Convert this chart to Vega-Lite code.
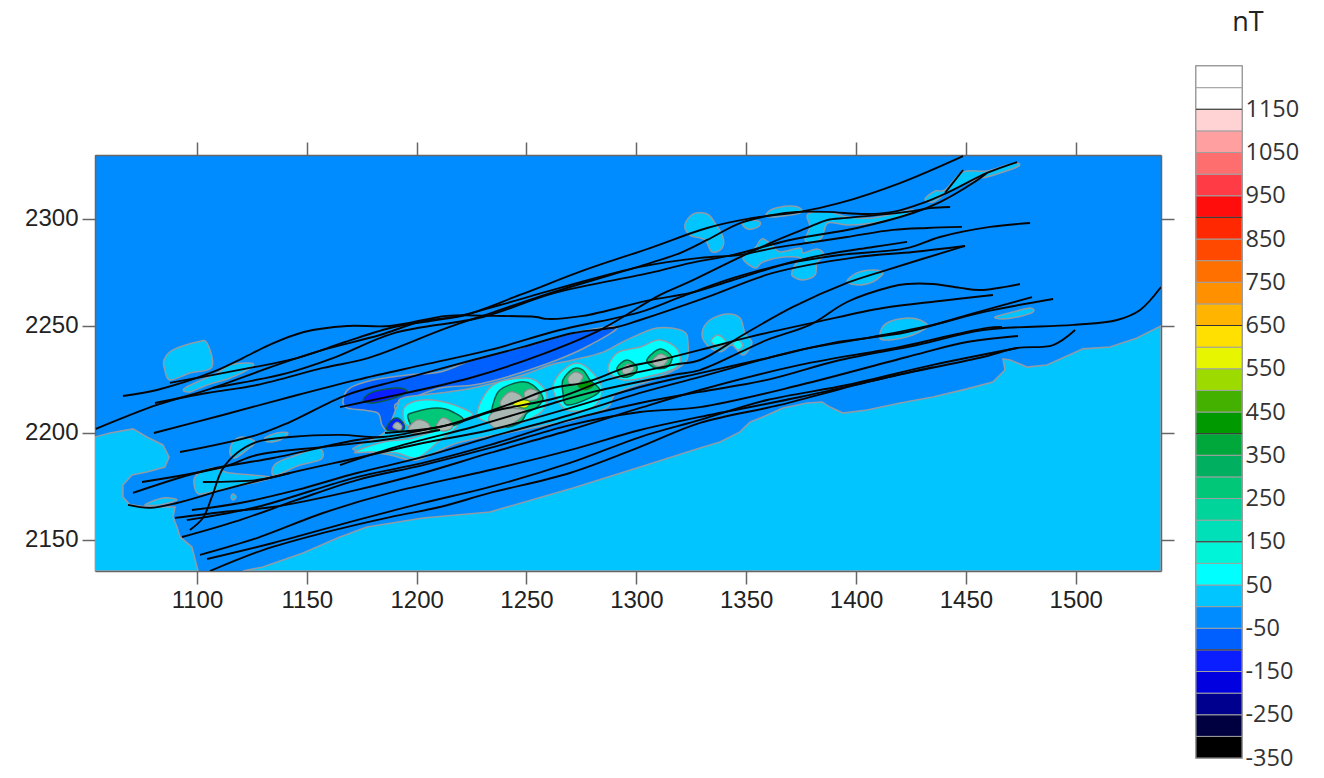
{"$schema":"https://vega.github.io/schema/vega-lite/v6.json","background":"white","padding":{"left":24,"top":7,"right":0,"bottom":0},
"config":{"view":{"stroke":null},"axis":{"grid":false,"title":null,"tickColor":"#666","tickSize":13,"tickWidth":1.5,"domainColor":"#666","domainWidth":1.5,"labelFontSize":24,"labelFont":"Liberation Sans","labelColor":"#222","labelPadding":4,"zindex":1}},
"datasets":{
"regions":[
{"id":"L","b":0,"x":1053.6,"y":2135.5},{"id":"L","b":0,"x":1053.6,"y":2198.1},{"id":"L","b":0,"x":1060.4,"y":2200},{"id":"L","b":0,"x":1070.9,"y":2201.9},{"id":"L","b":0,"x":1077.2,"y":2198.1},{"id":"L","b":0,"x":1084.5,"y":2194.4},{"id":"L","b":0,"x":1087.3,"y":2188.8},{"id":"L","b":0,"x":1085.4,"y":2184.1},{"id":"L","b":0,"x":1077.2,"y":2181.8},{"id":"L","b":0,"x":1070.4,"y":2180.4},{"id":"L","b":0,"x":1066.3,"y":2175.7},{"id":"L","b":0,"x":1066.3,"y":2170.1},{"id":"L","b":0,"x":1069.5,"y":2166.4},{"id":"L","b":0,"x":1077.2,"y":2165.4},{"id":"L","b":0,"x":1090,"y":2165.4},{"id":"L","b":0,"x":1089.1,"y":2160.7},{"id":"L","b":0,"x":1090.9,"y":2156.1},{"id":"L","b":0,"x":1092.3,"y":2151.4},{"id":"L","b":0,"x":1097.7,"y":2146.7},{"id":"L","b":0,"x":1100,"y":2137.4},{"id":"L","b":0,"x":1100.5,"y":2135.5},
{"id":"R","b":0,"x":1538.8,"y":2250},{"id":"R","b":0,"x":1527.9,"y":2244.4},{"id":"R","b":0,"x":1515.6,"y":2240.2},{"id":"R","b":0,"x":1503.3,"y":2239.3},{"id":"R","b":0,"x":1496,"y":2236},{"id":"R","b":0,"x":1486.9,"y":2231.8},{"id":"R","b":0,"x":1477.8,"y":2230.8},{"id":"R","b":0,"x":1470.1,"y":2234.1},{"id":"R","b":0,"x":1466.9,"y":2234.6},{"id":"R","b":0,"x":1467.8,"y":2229.4},{"id":"R","b":0,"x":1462.3,"y":2223.8},{"id":"R","b":0,"x":1450.5,"y":2220.6},{"id":"R","b":0,"x":1435,"y":2216.8},{"id":"R","b":0,"x":1420,"y":2214},{"id":"R","b":0,"x":1405,"y":2210.7},{"id":"R","b":0,"x":1394,"y":2209.3},{"id":"R","b":0,"x":1388.1,"y":2212.1},{"id":"R","b":0,"x":1384.5,"y":2214.5},{"id":"R","b":0,"x":1377.7,"y":2214},{"id":"R","b":0,"x":1366.8,"y":2211.7},{"id":"R","b":0,"x":1357.6,"y":2207.5},{"id":"R","b":0,"x":1351.7,"y":2205.1},{"id":"R","b":0,"x":1347.2,"y":2200.5},{"id":"R","b":0,"x":1338.1,"y":2195.8},{"id":"R","b":0,"x":1329,"y":2193},{"id":"R","b":0,"x":1301.7,"y":2184.1},{"id":"R","b":0,"x":1271.2,"y":2174.3},{"id":"R","b":0,"x":1233.4,"y":2163.1},{"id":"R","b":0,"x":1202.9,"y":2160.3},{"id":"R","b":0,"x":1177.4,"y":2156.1},{"id":"R","b":0,"x":1165.1,"y":2151.4},{"id":"R","b":0,"x":1148.3,"y":2143.9},{"id":"R","b":0,"x":1130,"y":2137.4},{"id":"R","b":0,"x":1120.9,"y":2135.5},{"id":"R","b":0,"x":1538.8,"y":2135.5}
],
"blobs":[
{"id":"b1","b":0,"x":1322.1,"y":2297.2},{"id":"b1","b":0,"x":1325.8,"y":2302.3},{"id":"b1","b":0,"x":1332.2,"y":2302.3},{"id":"b1","b":0,"x":1335.8,"y":2298.1},{"id":"b1","b":0,"x":1339.4,"y":2291.6},{"id":"b1","b":0,"x":1339,"y":2286.4},{"id":"b1","b":0,"x":1334.4,"y":2284.6},{"id":"b1","b":0,"x":1331.2,"y":2290.2},{"id":"b1","b":0,"x":1324.4,"y":2292.5},
{"id":"b2","b":0,"x":1348.1,"y":2298.1},{"id":"b2","b":0,"x":1351.7,"y":2299.5},{"id":"b2","b":0,"x":1356.3,"y":2298.6},{"id":"b2","b":0,"x":1355.4,"y":2296.3},{"id":"b2","b":0,"x":1350.8,"y":2295.3},
{"id":"b3","b":0,"x":1359,"y":2301.9},{"id":"b3","b":0,"x":1362.2,"y":2304.7},{"id":"b3","b":0,"x":1369.9,"y":2306.1},{"id":"b3","b":0,"x":1374.5,"y":2305.1},{"id":"b3","b":0,"x":1374.5,"y":2302.8},{"id":"b3","b":0,"x":1362.2,"y":2300.9},
{"id":"b4","b":0,"x":1378.1,"y":2302.3},{"id":"b4","b":0,"x":1388.1,"y":2303.3},{"id":"b4","b":0,"x":1395.9,"y":2300.9},{"id":"b4","b":0,"x":1407.7,"y":2300.5},{"id":"b4","b":0,"x":1425.5,"y":2304.2},{"id":"b4","b":0,"x":1421.4,"y":2301.4},{"id":"b4","b":0,"x":1407.7,"y":2298.1},{"id":"b4","b":0,"x":1395.9,"y":2297.2},{"id":"b4","b":0,"x":1387.2,"y":2298.1},{"id":"b4","b":0,"x":1384.5,"y":2291.6},{"id":"b4","b":0,"x":1380.4,"y":2288.8},{"id":"b4","b":0,"x":1376.8,"y":2290.2},{"id":"b4","b":0,"x":1379,"y":2296.3},
{"id":"b5","b":0,"x":1354,"y":2286.4},{"id":"b5","b":0,"x":1357.2,"y":2290.7},{"id":"b5","b":0,"x":1361.7,"y":2287.9},{"id":"b5","b":0,"x":1365.4,"y":2284.6},{"id":"b5","b":0,"x":1374.5,"y":2286.4},{"id":"b5","b":0,"x":1375.9,"y":2284.1},{"id":"b5","b":0,"x":1382.2,"y":2286},{"id":"b5","b":0,"x":1385.4,"y":2283.2},{"id":"b5","b":0,"x":1382.2,"y":2279.4},{"id":"b5","b":0,"x":1381.3,"y":2273.8},{"id":"b5","b":0,"x":1375.9,"y":2271.5},{"id":"b5","b":0,"x":1370.8,"y":2273.8},{"id":"b5","b":0,"x":1372.2,"y":2278.5},{"id":"b5","b":0,"x":1374.5,"y":2281.8},{"id":"b5","b":0,"x":1366.8,"y":2282.2},{"id":"b5","b":0,"x":1357.6,"y":2279.9},{"id":"b5","b":0,"x":1354,"y":2277.1},{"id":"b5","b":0,"x":1348.5,"y":2281.8},
{"id":"b6","b":0,"x":1395.9,"y":2270.6},{"id":"b6","b":0,"x":1400.4,"y":2274.8},{"id":"b6","b":0,"x":1407.7,"y":2276.2},{"id":"b6","b":0,"x":1412.3,"y":2274.8},{"id":"b6","b":0,"x":1407.7,"y":2270.6},{"id":"b6","b":0,"x":1401.8,"y":2269.2},
{"id":"b7","b":0,"x":1431.4,"y":2309.3},{"id":"b7","b":0,"x":1436,"y":2313.1},{"id":"b7","b":0,"x":1440.5,"y":2313.6},{"id":"b7","b":0,"x":1448.7,"y":2322},{"id":"b7","b":0,"x":1459.6,"y":2322.4},{"id":"b7","b":0,"x":1468.7,"y":2325.2},{"id":"b7","b":0,"x":1473.3,"y":2326.2},{"id":"b7","b":0,"x":1473.3,"y":2324.3},{"id":"b7","b":0,"x":1459.6,"y":2319.6},{"id":"b7","b":0,"x":1455,"y":2318.7},{"id":"b7","b":0,"x":1441.4,"y":2312.2},{"id":"b7","b":0,"x":1435,"y":2307.9},
{"id":"b8","b":0,"x":1463.3,"y":2254.2},{"id":"b8","b":0,"x":1471.4,"y":2256.5},{"id":"b8","b":0,"x":1479.2,"y":2258.4},{"id":"b8","b":0,"x":1480.5,"y":2256.5},{"id":"b8","b":0,"x":1473.3,"y":2254.2},{"id":"b8","b":0,"x":1466.4,"y":2253.3},
{"id":"b9","b":0,"x":1410.9,"y":2246.7},{"id":"b9","b":0,"x":1414.1,"y":2251.4},{"id":"b9","b":0,"x":1423.2,"y":2253.7},{"id":"b9","b":0,"x":1429.1,"y":2252.8},{"id":"b9","b":0,"x":1432.3,"y":2249.5},{"id":"b9","b":0,"x":1423.2,"y":2244.9},{"id":"b9","b":0,"x":1412.3,"y":2243.5},
{"id":"b10","b":0,"x":1329.9,"y":2246.7},{"id":"b10","b":0,"x":1333.5,"y":2252.8},{"id":"b10","b":0,"x":1341.3,"y":2255.6},{"id":"b10","b":0,"x":1347.2,"y":2253.7},{"id":"b10","b":0,"x":1349.4,"y":2246.7},{"id":"b10","b":0,"x":1352.6,"y":2242.1},{"id":"b10","b":0,"x":1348.5,"y":2236.4},{"id":"b10","b":0,"x":1343.5,"y":2241.1},{"id":"b10","b":0,"x":1338.1,"y":2237.9},{"id":"b10","b":0,"x":1332.2,"y":2241.1},
{"id":"b10a","b":50,"x":1334,"y":2243},{"id":"b10a","b":50,"x":1337.2,"y":2245.8},{"id":"b10a","b":50,"x":1340.8,"y":2242.5},{"id":"b10a","b":50,"x":1337.2,"y":2240.2},
{"id":"b10b","b":50,"x":1344,"y":2241.6},{"id":"b10b","b":50,"x":1346.3,"y":2243.5},{"id":"b10b","b":50,"x":1348.5,"y":2241.1},{"id":"b10b","b":50,"x":1346.3,"y":2238.8},
{"id":"b11","b":0,"x":1085,"y":2234.1},{"id":"b11","b":0,"x":1089.1,"y":2238.8},{"id":"b11","b":0,"x":1100,"y":2242.5},{"id":"b11","b":0,"x":1104.6,"y":2242},{"id":"b11","b":0,"x":1106.8,"y":2230.8},{"id":"b11","b":0,"x":1096.8,"y":2228},{"id":"b11","b":0,"x":1087.7,"y":2224.8},{"id":"b11","b":0,"x":1085.4,"y":2229.4},
{"id":"b12","b":0,"x":1094.5,"y":2221},{"id":"b12","b":0,"x":1109.1,"y":2228},{"id":"b12","b":0,"x":1115,"y":2231.8},{"id":"b12","b":0,"x":1124.1,"y":2232.7},{"id":"b12","b":0,"x":1125,"y":2230.8},{"id":"b12","b":0,"x":1115,"y":2225.7},{"id":"b12","b":0,"x":1104.6,"y":2222.4},{"id":"b12","b":0,"x":1096.8,"y":2219.2},
{"id":"b13","b":0,"x":1115,"y":2190.7},{"id":"b13","b":0,"x":1116.4,"y":2195.8},{"id":"b13","b":0,"x":1120.9,"y":2198.1},{"id":"b13","b":0,"x":1126.4,"y":2195.8},{"id":"b13","b":0,"x":1122.8,"y":2192.1},{"id":"b13","b":0,"x":1117.3,"y":2188.3},
{"id":"b14","b":0,"x":1131,"y":2197.7},{"id":"b14","b":0,"x":1136.4,"y":2200},{"id":"b14","b":0,"x":1141.4,"y":2200},{"id":"b14","b":0,"x":1137.8,"y":2196.7},{"id":"b14","b":0,"x":1132.3,"y":2195.8},
{"id":"b15","b":0,"x":1134.1,"y":2181.8},{"id":"b15","b":0,"x":1136.4,"y":2186},{"id":"b15","b":0,"x":1145.5,"y":2189.7},{"id":"b15","b":0,"x":1154.6,"y":2193},{"id":"b15","b":0,"x":1157.4,"y":2190.7},{"id":"b15","b":0,"x":1156,"y":2187.4},{"id":"b15","b":0,"x":1146.9,"y":2185},{"id":"b15","b":0,"x":1136.4,"y":2180.4},
{"id":"b16","b":0,"x":1099.1,"y":2179.4},{"id":"b16","b":0,"x":1107.3,"y":2183.6},{"id":"b16","b":0,"x":1115,"y":2181.3},{"id":"b16","b":0,"x":1133.2,"y":2179.4},{"id":"b16","b":0,"x":1127.3,"y":2177.1},{"id":"b16","b":0,"x":1116.4,"y":2174.8},{"id":"b16","b":0,"x":1104.6,"y":2172},{"id":"b16","b":0,"x":1100,"y":2172},
{"id":"b17","b":0,"x":1076.3,"y":2166.4},{"id":"b17","b":0,"x":1084.5,"y":2169.6},{"id":"b17","b":0,"x":1090.9,"y":2168.7},{"id":"b17","b":0,"x":1083.2,"y":2166.4},
{"id":"b18","b":0,"x":1115.5,"y":2170.1},{"id":"b18","b":0,"x":1116.4,"y":2171.5},{"id":"b18","b":0,"x":1117.8,"y":2170.1},{"id":"b18","b":0,"x":1116.4,"y":2168.7},
{"id":"sliver","b":-100,"x":1166.5,"y":2215.4},{"id":"sliver","b":-100,"x":1169.6,"y":2221},{"id":"sliver","b":-100,"x":1180.1,"y":2224.8},{"id":"sliver","b":-100,"x":1195.6,"y":2227.1},{"id":"sliver","b":-100,"x":1210.6,"y":2228.5},{"id":"sliver","b":-100,"x":1225.6,"y":2234.1},{"id":"sliver","b":-100,"x":1248.4,"y":2240.2},{"id":"sliver","b":-100,"x":1271.2,"y":2246.7},{"id":"sliver","b":-100,"x":1291.2,"y":2249.5},{"id":"sliver","b":-100,"x":1278.9,"y":2241.1},{"id":"sliver","b":-100,"x":1263.9,"y":2234.1},{"id":"sliver","b":-100,"x":1241.1,"y":2226.2},{"id":"sliver","b":-100,"x":1225.6,"y":2222.4},{"id":"sliver","b":-100,"x":1210.6,"y":2221},{"id":"sliver","b":-100,"x":1195.6,"y":2215.4},{"id":"sliver","b":-100,"x":1190.1,"y":2213.1},{"id":"sliver","b":-100,"x":1191,"y":2207.5},{"id":"sliver","b":-100,"x":1186.9,"y":2201.4},{"id":"sliver","b":-100,"x":1184.2,"y":2203.7},{"id":"sliver","b":-100,"x":1182.4,"y":2209.3},{"id":"sliver","b":-100,"x":1175.6,"y":2210.7},{"id":"sliver","b":-100,"x":1168.3,"y":2211.7},
{"id":"h0","b":0,"x":1191,"y":2212.1},{"id":"h0","b":0,"x":1193.8,"y":2216.4},{"id":"h0","b":0,"x":1210.6,"y":2218.7},{"id":"h0","b":0,"x":1225.6,"y":2221},{"id":"h0","b":0,"x":1248.4,"y":2227.1},{"id":"h0","b":0,"x":1260.7,"y":2231.8},{"id":"h0","b":0,"x":1271.2,"y":2234.1},{"id":"h0","b":0,"x":1284.8,"y":2237.8},{"id":"h0","b":0,"x":1295.7,"y":2243.5},{"id":"h0","b":0,"x":1309.4,"y":2249.1},{"id":"h0","b":0,"x":1321.2,"y":2247.7},{"id":"h0","b":0,"x":1323.5,"y":2242.1},{"id":"h0","b":0,"x":1322.1,"y":2232.7},{"id":"h0","b":0,"x":1309.4,"y":2225.7},{"id":"h0","b":0,"x":1291.2,"y":2218.7},{"id":"h0","b":0,"x":1286.6,"y":2211.7},{"id":"h0","b":0,"x":1271.2,"y":2206.1},{"id":"h0","b":0,"x":1259.3,"y":2203.7},{"id":"h0","b":0,"x":1241.1,"y":2200},{"id":"h0","b":0,"x":1218.4,"y":2195.3},{"id":"h0","b":0,"x":1200.1,"y":2187.4},{"id":"h0","b":0,"x":1187.9,"y":2189.7},{"id":"h0","b":0,"x":1171.9,"y":2192},{"id":"h0","b":0,"x":1174.2,"y":2194.4},{"id":"h0","b":0,"x":1185.6,"y":2200.5},
{"id":"h1","b":50,"x":1193.8,"y":2209.3},{"id":"h1","b":50,"x":1197,"y":2214},{"id":"h1","b":50,"x":1207.4,"y":2215.4},{"id":"h1","b":50,"x":1219.7,"y":2212.1},{"id":"h1","b":50,"x":1224.3,"y":2207.5},{"id":"h1","b":50,"x":1198.3,"y":2202.8},
{"id":"h2","b":50,"x":1227.5,"y":2209.3},{"id":"h2","b":50,"x":1234.7,"y":2222.4},{"id":"h2","b":50,"x":1250.2,"y":2225.7},{"id":"h2","b":50,"x":1257.5,"y":2221.5},{"id":"h2","b":50,"x":1259.3,"y":2215.4},{"id":"h2","b":50,"x":1256.1,"y":2209.3},{"id":"h2","b":50,"x":1243.8,"y":2203.7},{"id":"h2","b":50,"x":1233.4,"y":2204.7},
{"id":"h3","b":50,"x":1262.1,"y":2220.1},{"id":"h3","b":50,"x":1265.2,"y":2228},{"id":"h3","b":50,"x":1273,"y":2232.7},{"id":"h3","b":50,"x":1280.3,"y":2228},{"id":"h3","b":50,"x":1284.4,"y":2220.1},{"id":"h3","b":50,"x":1280.3,"y":2212.1},{"id":"h3","b":50,"x":1268.4,"y":2210.7},
{"id":"h4","b":50,"x":1287.1,"y":2229.4},{"id":"h4","b":50,"x":1291.2,"y":2237.4},{"id":"h4","b":50,"x":1301.7,"y":2240.2},{"id":"h4","b":50,"x":1310.8,"y":2243.5},{"id":"h4","b":50,"x":1318.9,"y":2238.8},{"id":"h4","b":50,"x":1318.5,"y":2230.8},{"id":"h4","b":50,"x":1304.8,"y":2226.2},{"id":"h4","b":50,"x":1293.9,"y":2224.8},
{"id":"h5","b":50,"x":1171.9,"y":2191.1},{"id":"h5","b":50,"x":1184.7,"y":2195.8},{"id":"h5","b":50,"x":1198.3,"y":2197.7},{"id":"h5","b":50,"x":1218.4,"y":2203.7},{"id":"h5","b":50,"x":1209.2,"y":2195.3},{"id":"h5","b":50,"x":1200.1,"y":2188.3},{"id":"h5","b":50,"x":1191,"y":2190.6},{"id":"h5","b":50,"x":1178.8,"y":2191.1}
],
"cores":[
{"id":"e","b":-150,"x":1175.6,"y":2215.4},{"id":"e","b":-150,"x":1180.1,"y":2219.2},{"id":"e","b":-150,"x":1191,"y":2221},{"id":"e","b":-150,"x":1195.6,"y":2219.6},{"id":"e","b":-150,"x":1191,"y":2216.8},{"id":"e","b":-150,"x":1180.1,"y":2214},
{"id":"c6","b":-150,"x":1186.5,"y":2201.4},{"id":"c6","b":-150,"x":1187.9,"y":2205.1},{"id":"c6","b":-150,"x":1191,"y":2207},{"id":"c6","b":-150,"x":1193.8,"y":2204.7},{"id":"c6","b":-150,"x":1193.8,"y":2201.4},
{"id":"c1","b":250,"x":1196,"y":2207.5},{"id":"c1","b":250,"x":1199.2,"y":2209.8},{"id":"c1","b":250,"x":1209.2,"y":2211.7},{"id":"c1","b":250,"x":1216.5,"y":2209.8},{"id":"c1","b":250,"x":1220.6,"y":2205.1},{"id":"c1","b":250,"x":1201.5,"y":2200.5},
{"id":"c2","b":250,"x":1234.7,"y":2213.1},{"id":"c2","b":250,"x":1237.9,"y":2220.1},{"id":"c2","b":250,"x":1247,"y":2223.8},{"id":"c2","b":250,"x":1252.9,"y":2222.4},{"id":"c2","b":250,"x":1257.5,"y":2216.4},{"id":"c2","b":250,"x":1254.8,"y":2212.1},{"id":"c2","b":250,"x":1250.2,"y":2209.3},{"id":"c2","b":250,"x":1247,"y":2204.7},{"id":"c2","b":250,"x":1239.3,"y":2202.8},{"id":"c2","b":250,"x":1234.3,"y":2207.5},
{"id":"c3","b":250,"x":1266.6,"y":2224.8},{"id":"c3","b":250,"x":1271.2,"y":2229.9},{"id":"c3","b":250,"x":1275.7,"y":2229.4},{"id":"c3","b":250,"x":1278.9,"y":2224.8},{"id":"c3","b":250,"x":1283.4,"y":2220.1},{"id":"c3","b":250,"x":1278.9,"y":2216.4},{"id":"c3","b":250,"x":1268.4,"y":2213.1},{"id":"c3","b":250,"x":1266.6,"y":2218.7},
{"id":"c4","b":250,"x":1291.2,"y":2230.4},{"id":"c4","b":250,"x":1295.7,"y":2234.1},{"id":"c4","b":250,"x":1300.3,"y":2230.8},{"id":"c4","b":250,"x":1298.5,"y":2227.1},{"id":"c4","b":250,"x":1293.5,"y":2226.2},
{"id":"c5","b":250,"x":1304.8,"y":2234.1},{"id":"c5","b":250,"x":1310.8,"y":2239.2},{"id":"c5","b":250,"x":1316.2,"y":2235.5},{"id":"c5","b":250,"x":1313.9,"y":2230.8},{"id":"c5","b":250,"x":1308.5,"y":2230.4}
],
"greys":[
{"id":"g1","x":1189.2,"y":2202.8},{"id":"g1","x":1191,"y":2205.1},{"id":"g1","x":1193.3,"y":2203.3},{"id":"g1","x":1192.4,"y":2201.4},
{"id":"g2","x":1196,"y":2201.4},{"id":"g2","x":1200.1,"y":2206.1},{"id":"g2","x":1205.1,"y":2204.7},{"id":"g2","x":1206,"y":2201.4},{"id":"g2","x":1200.6,"y":2199.5},
{"id":"g3","x":1208.8,"y":2202.8},{"id":"g3","x":1211.5,"y":2207},{"id":"g3","x":1215.2,"y":2205.6},{"id":"g3","x":1216.1,"y":2202.3},{"id":"g3","x":1212,"y":2200.9},
{"id":"g4","x":1237.9,"y":2214},{"id":"g4","x":1242.5,"y":2219.2},{"id":"g4","x":1247.9,"y":2216.8},{"id":"g4","x":1247,"y":2211.7},{"id":"g4","x":1241.6,"y":2210.7},
{"id":"g5","x":1248.9,"y":2218.7},{"id":"g5","x":1251.6,"y":2220.6},{"id":"g5","x":1255.2,"y":2219.2},{"id":"g5","x":1254.8,"y":2215.9},{"id":"g5","x":1250.2,"y":2215.4},
{"id":"g6","x":1233.4,"y":2208.4},{"id":"g6","x":1240.2,"y":2211.2},{"id":"g6","x":1249.3,"y":2210.7},{"id":"g6","x":1246.1,"y":2206.1},{"id":"g6","x":1238.8,"y":2202.3},{"id":"g6","x":1233.8,"y":2203.7},
{"id":"g8","x":1268.9,"y":2225.7},{"id":"g8","x":1272.1,"y":2228.5},{"id":"g8","x":1275.7,"y":2226.6},{"id":"g8","x":1273.4,"y":2222.9},{"id":"g8","x":1269.8,"y":2222.9},
{"id":"g9","x":1293.5,"y":2229.4},{"id":"g9","x":1296.2,"y":2232.2},{"id":"g9","x":1298.9,"y":2230.4},{"id":"g9","x":1297.1,"y":2228},{"id":"g9","x":1294.4,"y":2227.6},
{"id":"g10","x":1307.1,"y":2233.6},{"id":"g10","x":1310.8,"y":2236.9},{"id":"g10","x":1314.4,"y":2235},{"id":"g10","x":1312.6,"y":2231.8},{"id":"g10","x":1308.9,"y":2231.3}
],
"accents":[
{"id":"y1","b":550,"x":1243.4,"y":2213.5},{"id":"y1","b":550,"x":1247.9,"y":2215.4},{"id":"y1","b":550,"x":1251.6,"y":2214.5},{"id":"y1","b":550,"x":1249.3,"y":2211.7},
{"id":"d1","b":400,"x":1273.4,"y":2222},{"id":"d1","b":400,"x":1277.1,"y":2224.3},{"id":"d1","b":400,"x":1280.7,"y":2222.4},{"id":"d1","b":400,"x":1277.1,"y":2220.1}
],
"faults":[
{"k":"a","x":1087.7,"y":2223.4},{"k":"a","x":1124.1,"y":2230.4},{"k":"a","x":1145.5,"y":2235},{"k":"a","x":1167.4,"y":2242.5},{"k":"a","x":1189.7,"y":2249.5},{"k":"a","x":1206.1,"y":2252.3},{"k":"a","x":1222,"y":2255.1},{"k":"a","x":1247,"y":2264.5},{"k":"a","x":1276.6,"y":2276.2},{"k":"a","x":1306.2,"y":2286.4},{"k":"a","x":1332.2,"y":2295.8},{"k":"a","x":1353.1,"y":2300.5},{"k":"a","x":1374.5,"y":2303.3},{"k":"a","x":1392.7,"y":2307.5},{"k":"a","x":1420,"y":2316.8},{"k":"a","x":1448.7,"y":2329.4},
{"k":"b","x":1080.9,"y":2214},{"k":"b","x":1104.6,"y":2218.7},{"k":"b","x":1127.3,"y":2222.4},{"k":"b","x":1157.4,"y":2230.4},{"k":"b","x":1177.8,"y":2235},{"k":"b","x":1213.8,"y":2249.1},{"k":"b","x":1235.2,"y":2256.5},{"k":"b","x":1262.5,"y":2265.9},{"k":"b","x":1306.2,"y":2279.4},{"k":"b","x":1319.9,"y":2284.1},{"k":"b","x":1332.2,"y":2290.2},{"k":"b","x":1347.2,"y":2298.1},{"k":"b","x":1362.2,"y":2301.9},{"k":"b","x":1373.1,"y":2303.3},{"k":"b","x":1386.8,"y":2303.3},{"k":"b","x":1405,"y":2302.3},{"k":"b","x":1416.8,"y":2303.3},{"k":"b","x":1430.5,"y":2307.5},{"k":"b","x":1441.4,"y":2312.2},{"k":"b","x":1459.6,"y":2321.5},{"k":"b","x":1473.3,"y":2326.6},
{"k":"c","x":1440.5,"y":2312.2},{"k":"c","x":1448.7,"y":2322.9},
{"k":"d","x":1054,"y":2201.9},{"k":"d","x":1081.8,"y":2213.1},{"k":"d","x":1104.6,"y":2220.1},{"k":"d","x":1136.4,"y":2231.8},{"k":"d","x":1157.4,"y":2238.8},{"k":"d","x":1183.3,"y":2245.8},{"k":"d","x":1201.5,"y":2251.9},{"k":"d","x":1219.7,"y":2254.7},{"k":"d","x":1237.9,"y":2259.8},{"k":"d","x":1265.2,"y":2267.8},{"k":"d","x":1301.7,"y":2277.6},{"k":"d","x":1329,"y":2281.8},{"k":"d","x":1347.2,"y":2283.2},{"k":"d","x":1362.2,"y":2286.4},{"k":"d","x":1377.7,"y":2288.8},{"k":"d","x":1395.9,"y":2291.6},{"k":"d","x":1416.8,"y":2294.9},{"k":"d","x":1432.3,"y":2295.8},{"k":"d","x":1448.2,"y":2296.3},
{"k":"e","x":1066.3,"y":2217.3},{"k":"e","x":1081.8,"y":2220.1},{"k":"e","x":1107.3,"y":2228.5},{"k":"e","x":1120.9,"y":2235},{"k":"e","x":1132.8,"y":2241.1},{"k":"e","x":1148.7,"y":2247.2},{"k":"e","x":1168.3,"y":2250},{"k":"e","x":1187.9,"y":2250},{"k":"e","x":1213.8,"y":2254.7},{"k":"e","x":1235.2,"y":2254.7},{"k":"e","x":1254.3,"y":2254.2},{"k":"e","x":1259.3,"y":2253.3},{"k":"e","x":1275.7,"y":2254.7},{"k":"e","x":1306.2,"y":2262.1},{"k":"e","x":1324.4,"y":2265.4},{"k":"e","x":1344,"y":2271.5},{"k":"e","x":1369.9,"y":2279.4},{"k":"e","x":1392.7,"y":2283.2},{"k":"e","x":1423.2,"y":2286.4},{"k":"e","x":1438.2,"y":2291.6},{"k":"e","x":1461,"y":2296.3},{"k":"e","x":1479.2,"y":2298.1},
{"k":"f","x":1106.8,"y":2221},{"k":"f","x":1141,"y":2228},{"k":"f","x":1161.9,"y":2235},{"k":"f","x":1189.7,"y":2246.7},{"k":"f","x":1230.2,"y":2254.2},{"k":"f","x":1262.5,"y":2265.4},{"k":"f","x":1306.2,"y":2274.8},{"k":"f","x":1324.4,"y":2279.4},{"k":"f","x":1344,"y":2283.2},{"k":"f","x":1369.9,"y":2290.2},{"k":"f","x":1400.4,"y":2295.8},{"k":"f","x":1425.9,"y":2302.8},{"k":"f","x":1438.2,"y":2307.9},{"k":"f","x":1453.2,"y":2316.8},{"k":"f","x":1459.6,"y":2321.5},
{"k":"g","x":1092.3,"y":2191.1},{"k":"g","x":1127.3,"y":2199.1},{"k":"g","x":1142.3,"y":2205.1},{"k":"g","x":1168.3,"y":2217.8},{"k":"g","x":1192.4,"y":2224.8},{"k":"g","x":1225.6,"y":2234.1},{"k":"g","x":1248.4,"y":2240.2},{"k":"g","x":1271.2,"y":2246.7},{"k":"g","x":1291.2,"y":2249.5},{"k":"g","x":1301.7,"y":2252.8},{"k":"g","x":1332.2,"y":2263.5},{"k":"g","x":1362.2,"y":2274.8},{"k":"g","x":1400.4,"y":2282.2},{"k":"g","x":1425.9,"y":2284.6},{"k":"g","x":1449.6,"y":2287.4},
{"k":"h","x":1080.4,"y":2200},{"k":"h","x":1111.8,"y":2208.4},{"k":"h","x":1142.3,"y":2216.8},{"k":"h","x":1172.8,"y":2224.8},{"k":"h","x":1202.9,"y":2231.8},{"k":"h","x":1233.4,"y":2238.8},{"k":"h","x":1265.2,"y":2248.1},{"k":"h","x":1301.7,"y":2256.5},{"k":"h","x":1319.9,"y":2263.5},{"k":"h","x":1341.3,"y":2271.5},{"k":"h","x":1362.2,"y":2277.6},{"k":"h","x":1385,"y":2283.2},{"k":"h","x":1407.7,"y":2286.9},{"k":"h","x":1423.2,"y":2289.3},
{"k":"i","x":1165.1,"y":2212.1},{"k":"i","x":1184.7,"y":2216.4},{"k":"i","x":1224.3,"y":2225.7},{"k":"i","x":1256.1,"y":2236.4},{"k":"i","x":1283.4,"y":2248.1},{"k":"i","x":1310.8,"y":2264.5},{"k":"i","x":1323,"y":2270.1},{"k":"i","x":1347.2,"y":2282.2},{"k":"i","x":1362.2,"y":2289.3},{"k":"i","x":1377.7,"y":2295.8},{"k":"i","x":1386.8,"y":2299.5},{"k":"i","x":1395.9,"y":2300.5},{"k":"i","x":1423.2,"y":2303.3},{"k":"i","x":1433.7,"y":2305.1},{"k":"i","x":1442.8,"y":2305.6},
{"k":"j","x":1185.6,"y":2200},{"k":"j","x":1210.6,"y":2202.8},{"k":"j","x":1225.6,"y":2207.5},{"k":"j","x":1243.8,"y":2214},{"k":"j","x":1262.1,"y":2221},{"k":"j","x":1277.5,"y":2223.8},{"k":"j","x":1295.7,"y":2230.8},{"k":"j","x":1310.8,"y":2234.1},{"k":"j","x":1329,"y":2238.8},{"k":"j","x":1351.7,"y":2244.9},{"k":"j","x":1382.2,"y":2251.9},{"k":"j","x":1412.3,"y":2258.4},{"k":"j","x":1438.2,"y":2261.7},{"k":"j","x":1462.3,"y":2264.5},
{"k":"k","x":1096.8,"y":2154.7},{"k":"k","x":1102.7,"y":2160.3},{"k":"k","x":1106.8,"y":2170.1},{"k":"k","x":1111.4,"y":2182.7},{"k":"k","x":1118.2,"y":2190.6},{"k":"k","x":1127.3,"y":2195.8},{"k":"k","x":1142.3,"y":2198.1},{"k":"k","x":1165.1,"y":2199.1},{"k":"k","x":1184.7,"y":2198.1},{"k":"k","x":1202.9,"y":2201.4},{"k":"k","x":1219.7,"y":2205.1},{"k":"k","x":1233.4,"y":2209.8},{"k":"k","x":1265.2,"y":2216.8},{"k":"k","x":1286.6,"y":2224.8},{"k":"k","x":1316.7,"y":2231.8},{"k":"k","x":1329,"y":2234.1},{"k":"k","x":1348.5,"y":2245.8},{"k":"k","x":1371.3,"y":2258.9},{"k":"k","x":1395.9,"y":2270.1},{"k":"k","x":1410.9,"y":2275.2},{"k":"k","x":1449.6,"y":2287.4},
{"k":"l","x":1165.1,"y":2185},{"k":"l","x":1193.8,"y":2194.4},{"k":"l","x":1225.6,"y":2202.8},{"k":"l","x":1256.1,"y":2212.1},{"k":"l","x":1280.3,"y":2219.2},{"k":"l","x":1316.7,"y":2227.1},{"k":"l","x":1329,"y":2229.4},{"k":"l","x":1359.5,"y":2243.5},{"k":"l","x":1379,"y":2250.5},{"k":"l","x":1395.9,"y":2261.2},{"k":"l","x":1415.5,"y":2268.2},{"k":"l","x":1423.2,"y":2269.6},{"k":"l","x":1435,"y":2269.6},{"k":"l","x":1447.3,"y":2267.8},{"k":"l","x":1456.4,"y":2266.8},{"k":"l","x":1474.6,"y":2269.6},
{"k":"m","x":1075,"y":2177.1},{"k":"m","x":1111.8,"y":2184.1},{"k":"m","x":1127.3,"y":2189.7},{"k":"m","x":1157.4,"y":2193.5},{"k":"m","x":1184.7,"y":2196.7},{"k":"m","x":1210.6,"y":2201.4},
{"k":"n","x":1070.9,"y":2172},{"k":"n","x":1104.6,"y":2182.7},{"k":"n","x":1134.6,"y":2188.3},{"k":"n","x":1172.8,"y":2196.7},{"k":"n","x":1184.7,"y":2198.1},
{"k":"o","x":1068.6,"y":2166.4},{"k":"o","x":1078.6,"y":2165},{"k":"o","x":1090.9,"y":2167.3},{"k":"o","x":1111.8,"y":2173.4},{"k":"o","x":1142.3,"y":2181.3},{"k":"o","x":1172.8,"y":2188.3},{"k":"o","x":1202.9,"y":2195.3},{"k":"o","x":1233.4,"y":2201.4},{"k":"o","x":1271.2,"y":2212.1},{"k":"o","x":1301.7,"y":2221.5},{"k":"o","x":1329,"y":2228},{"k":"o","x":1359.5,"y":2235},{"k":"o","x":1389.5,"y":2242.1},{"k":"o","x":1423.2,"y":2247.2},{"k":"o","x":1450.5,"y":2255.1},{"k":"o","x":1480.1,"y":2263.5},
{"k":"p","x":1102.7,"y":2177.1},{"k":"p","x":1127.3,"y":2178},{"k":"p","x":1142.3,"y":2181.3},
{"k":"q","x":1097.7,"y":2164},{"k":"q","x":1119.6,"y":2167.3},{"k":"q","x":1145.5,"y":2173.4},{"k":"q","x":1172.8,"y":2181.3},{"k":"q","x":1202.9,"y":2188.8},{"k":"q","x":1233.4,"y":2198.1},{"k":"q","x":1269.8,"y":2208.4},{"k":"q","x":1301.7,"y":2218.7},{"k":"q","x":1329,"y":2226.2},{"k":"q","x":1374.5,"y":2238.8},{"k":"q","x":1407.7,"y":2244.9},{"k":"q","x":1435,"y":2250.5},{"k":"q","x":1457.8,"y":2256.5},{"k":"q","x":1489.7,"y":2262.6},
{"k":"r","x":1090,"y":2160.3},{"k":"r","x":1111.8,"y":2163.1},{"k":"r","x":1134.6,"y":2165.4},{"k":"r","x":1172.8,"y":2173.4},{"k":"r","x":1202.9,"y":2181.3},{"k":"r","x":1233.4,"y":2190.7},{"k":"r","x":1269.8,"y":2201.4},{"k":"r","x":1301.7,"y":2211.7},{"k":"r","x":1329,"y":2220.1},{"k":"r","x":1374.5,"y":2231.8},{"k":"r","x":1420,"y":2240.2},{"k":"r","x":1444.1,"y":2245.8},{"k":"r","x":1459.6,"y":2249.1},{"k":"r","x":1466.4,"y":2249.5},
{"k":"s","x":1095.4,"y":2159.3},{"k":"s","x":1127.3,"y":2165.4},{"k":"s","x":1172.8,"y":2179.4},{"k":"s","x":1202.9,"y":2186},{"k":"s","x":1233.4,"y":2194.4},{"k":"s","x":1269.8,"y":2206.1},{"k":"s","x":1301.7,"y":2214},{"k":"s","x":1329,"y":2219.2},{"k":"s","x":1359.5,"y":2224.8},{"k":"s","x":1392.7,"y":2234.1},{"k":"s","x":1427.8,"y":2241.1},{"k":"s","x":1457.8,"y":2248.1},{"k":"s","x":1498.8,"y":2250.5},{"k":"s","x":1518.8,"y":2252.8},{"k":"s","x":1529.3,"y":2257.5},{"k":"s","x":1538.8,"y":2268.2},
{"k":"t","x":1093.2,"y":2151.4},{"k":"t","x":1119.6,"y":2159.3},{"k":"t","x":1145.5,"y":2168.7},{"k":"t","x":1172.8,"y":2178},{"k":"t","x":1202.9,"y":2185},{"k":"t","x":1233.4,"y":2193},{"k":"t","x":1269.8,"y":2203.7},{"k":"t","x":1301.7,"y":2209.8},{"k":"t","x":1329,"y":2212.1},{"k":"t","x":1374.5,"y":2222.4},{"k":"t","x":1423.2,"y":2235.5},{"k":"t","x":1450.5,"y":2242.5},{"k":"t","x":1473.7,"y":2245.3},
{"k":"v","x":1101.4,"y":2143},{"k":"v","x":1127.3,"y":2150.9},{"k":"v","x":1157.4,"y":2162.6},{"k":"v","x":1187.9,"y":2172},{"k":"v","x":1233.4,"y":2182.7},{"k":"v","x":1269.8,"y":2192},{"k":"v","x":1301.7,"y":2201.4},{"k":"v","x":1329,"y":2207.5},{"k":"v","x":1374.5,"y":2216.8},{"k":"v","x":1423.2,"y":2228},{"k":"v","x":1457.8,"y":2235.5},{"k":"v","x":1473.3,"y":2239.7},{"k":"v","x":1489.7,"y":2241.1},{"k":"v","x":1499.7,"y":2248.1},
{"k":"w","x":1104.6,"y":2141.1},{"k":"w","x":1134.6,"y":2148.6},{"k":"w","x":1172.8,"y":2159.3},{"k":"w","x":1202.9,"y":2167.3},{"k":"w","x":1233.4,"y":2174.8},{"k":"w","x":1269.8,"y":2186},{"k":"w","x":1301.7,"y":2198.1},{"k":"w","x":1329,"y":2206.1},{"k":"w","x":1359.5,"y":2215.4},{"k":"w","x":1395.9,"y":2222.4},{"k":"w","x":1435,"y":2231.8},{"k":"w","x":1473.3,"y":2239.7},
{"k":"x","x":1105.9,"y":2135.5},{"k":"x","x":1130,"y":2145.3},{"k":"x","x":1157.4,"y":2153.3},{"k":"x","x":1187.9,"y":2160.7},{"k":"x","x":1210.6,"y":2165.4},{"k":"x","x":1233.4,"y":2172},{"k":"x","x":1269.8,"y":2181.3},{"k":"x","x":1301.7,"y":2193.5},{"k":"x","x":1329,"y":2204.7},{"k":"x","x":1365.4,"y":2213.1},{"k":"x","x":1405,"y":2223.8},{"k":"x","x":1435,"y":2230.8}
],
"bar":[{"low":-350,"high":-300},{"low":-300,"high":-250},{"low":-250,"high":-200},{"low":-200,"high":-150},{"low":-150,"high":-100},{"low":-100,"high":-50},{"low":-50,"high":0},{"low":0,"high":50},{"low":50,"high":100},{"low":100,"high":150},{"low":150,"high":200},{"low":200,"high":250},{"low":250,"high":300},{"low":300,"high":350},{"low":350,"high":400},{"low":400,"high":450},{"low":450,"high":500},{"low":500,"high":550},{"low":550,"high":600},{"low":600,"high":650},{"low":650,"high":700},{"low":700,"high":750},{"low":750,"high":800},{"low":800,"high":850},{"low":850,"high":900},{"low":900,"high":950},{"low":950,"high":1000},{"low":1000,"high":1050},{"low":1050,"high":1100},{"low":1100,"high":1150},{"low":1150,"high":1200},{"low":1200,"high":1250}]
},
"hconcat":[
{"spacing":74,"vconcat":[
{"width":1066,"height":1,"data":{"values":[]},"mark":"point"},
{"width":1066,"height":416,"view":{"fill":"#008cff"},
"resolve":{"axis":{"x":"independent","y":"independent"}},
"layer":[
{"encoding":{
"x":{"field":"x","type":"quantitative","scale":{"domain":[1053.6,1538.8],"nice":false,"zero":false},"axis":{"orient":"bottom","values":[1100,1150,1200,1250,1300,1350,1400,1450,1500],"format":"d"}},
"y":{"field":"y","type":"quantitative","scale":{"domain":[2135.5,2329.9],"nice":false,"zero":false},"axis":{"orient":"left","values":[2150,2200,2250,2300],"format":"d"}},
"fill":{"field":"b","type":"ordinal","legend":null,"scale":{"domain":[-350,-300,-250,-200,-150,-100,-50,0,50,100,150,200,250,300,350,400,450,500,550,600,650,700,750,800,850,900,950,1000,1050,1100,1150,1200],"range":["#000000","#000040","#00008f","#0000e0","#0a1eff","#0060ff","#008cff","#00c5ff","#00ffff","#00f5d8","#00e0b8","#00d49a","#00c878","#00b060","#00a83c","#009900","#44b000","#9ddb00","#e8f500","#ffe000","#ffb400","#ff9000","#ff7000","#ff4800","#ff2800","#ff0d0d","#ff3c46","#ff6e6e","#ff9fa0","#ffd3d3","#ffffff","#ffffff"]}},
"detail":{"field":"id"},
"order":{"field":"i","type":"quantitative"}},
"layer":[
{"data":{"name":"regions"},"transform":[{"window":[{"op":"row_number","as":"i"}]}],"mark":{"type":"line","interpolate":"linear-closed","stroke":"#8d9ca8","strokeWidth":1.6,"clip":true}},
{"data":{"name":"blobs"},"transform":[{"window":[{"op":"row_number","as":"i"}]}],"mark":{"type":"line","interpolate":"cardinal-closed","stroke":"#8d9ca8","strokeWidth":1.5,"clip":true}},
{"data":{"name":"cores"},"transform":[{"window":[{"op":"row_number","as":"i"}]}],"mark":{"type":"line","interpolate":"cardinal-closed","stroke":"#0c5c46","strokeWidth":1.5,"clip":true}},
{"data":{"name":"greys"},"transform":[{"window":[{"op":"row_number","as":"i"}]}],"mark":{"type":"line","interpolate":"cardinal-closed","stroke":"#7f8f8a","strokeWidth":1.2,"clip":true},"encoding":{"fill":{"value":"#a9b8b2"}}},
{"data":{"name":"accents"},"transform":[{"window":[{"op":"row_number","as":"i"}]}],"mark":{"type":"line","interpolate":"cardinal-closed","stroke":"#2a7a30","strokeWidth":0.8,"clip":true}}
]},
{"data":{"name":"faults"},"transform":[{"window":[{"op":"row_number","as":"i"}]}],"mark":{"type":"line","interpolate":"catmull-rom","stroke":"#050505","strokeWidth":1.9,"clip":true},
"encoding":{
"x":{"field":"x","type":"quantitative","scale":{"domain":[1053.6,1538.8],"nice":false,"zero":false},"axis":{"orient":"top","values":[1100,1150,1200,1250,1300,1350,1400,1450,1500],"labels":false}},
"y":{"field":"y","type":"quantitative","scale":{"domain":[2135.5,2329.9],"nice":false,"zero":false},"axis":{"orient":"right","values":[2150,2200,2250,2300],"labels":false}},
"detail":{"field":"k"},
"order":{"field":"i","type":"quantitative"}}}
]}
]},
{"width":46,"height":692,"view":{"stroke":"#777","strokeWidth":1.5},
"title":{"text":"nT","fontSize":27,"font":"Open Sans","fontWeight":"normal","color":"#222","dx":29,"offset":29},
"data":{"name":"bar"},
"layer":[
{"mark":{"type":"rect","stroke":"#a0a0a0","strokeWidth":1},
"encoding":{
"y":{"field":"low","type":"quantitative","scale":{"domain":[-350,1250],"nice":false,"zero":false},"axis":{"orient":"right","values":[-350,-250,-150,-50,50,150,250,350,450,550,650,750,850,950,1050,1150],"domain":false,"ticks":false,"labelExpr":"'' + datum.value","labelFont":"Open Sans","labelFontSize":23.5,"labelPadding":3,"labelColor":"#333"}},
"y2":{"field":"high"},
"fill":{"field":"low","type":"ordinal","legend":null,"scale":{"domain":[-350,-300,-250,-200,-150,-100,-50,0,50,100,150,200,250,300,350,400,450,500,550,600,650,700,750,800,850,900,950,1000,1050,1100,1150,1200],"range":["#000000","#000040","#00008f","#0000e0","#0a1eff","#0060ff","#008cff","#00c5ff","#00ffff","#00f5d8","#00e0b8","#00d49a","#00c878","#00b060","#00a83c","#009900","#44b000","#9ddb00","#e8f500","#ffe000","#ffb400","#ff9000","#ff7000","#ff4800","#ff2800","#ff0d0d","#ff3c46","#ff6e6e","#ff9fa0","#ffd3d3","#ffffff","#ffffff"]}}}},
{"transform":[{"filter":{"field":"low","oneOf":[-100,150,400,650,900,1150]}}],
"mark":{"type":"rule","stroke":"#333","strokeWidth":1},
"encoding":{"y":{"field":"low","type":"quantitative"}}}
]}
],"spacing":19}
